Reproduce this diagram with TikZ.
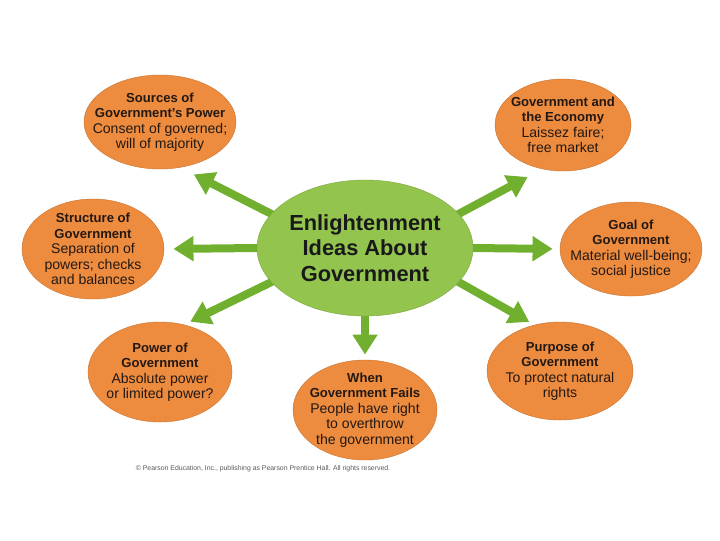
\documentclass[tikz,border=0pt]{standalone}
\usepackage{fontspec}
\setmainfont{Liberation Sans}
\usetikzlibrary{shapes.geometric,arrows.meta,backgrounds}
\definecolor{ideaorange}{RGB}{237,139,62}
\definecolor{hubgreen}{RGB}{146,196,78}
\definecolor{arrgreen}{RGB}{112,176,46}
\definecolor{ink}{RGB}{35,25,20}
\newcommand{\hd}[1]{{\fontsize{9.3}{11}\selectfont\bfseries #1}}
\tikzset{
  idea/.style={ellipse,fill=ideaorange,draw=ideaorange!85!black,line width=0.3pt,inner sep=-0.6cm,
    text=ink,align=center,font=\fontsize{10}{11}\selectfont},
  hub/.style={ellipse,fill=hubgreen,draw=hubgreen!85!black,line width=0.3pt,inner sep=-0.6cm,
    text=black!90,align=center,font=\fontsize{15.5}{18}\selectfont\bfseries,
    minimum width=5.4cm,minimum height=3.4cm},
  push/.style={arrgreen,line width=0.2cm,-{Triangle[width=0.6cm,length=0.5cm]},shorten <=-0.3cm}
}

\begin{document}
\begin{tikzpicture}[x=0.025cm,y=-0.025cm]
\useasboundingbox (0,0) rectangle (720,540);
% centre
\node[hub] (hub) at (365,248) {Enlightenment\\Ideas About\\Government};
% the seven ideas
\node[idea,minimum width=3.8cm,minimum height=2.35cm] (sources) at (160,122)
  {\hd{Sources of}\\\hd{Government’s Power}\\Consent of governed;\\will of majority};
\node[idea,minimum width=3.4cm,minimum height=2.3cm] (economy) at (563,125)
  {\hd{Government and}\\\hd{the Economy}\\Laissez faire;\\free market};
\node[idea,minimum width=3.55cm,minimum height=2.5cm] (structure) at (93,249)
  {\hd{Structure of}\\\hd{Government}\\Separation of\\powers; checks\\and balances};
\node[idea,minimum width=3.55cm,minimum height=2.35cm] (goal) at (631,249)
  {\hd{Goal of}\\\hd{Government}\\Material well-being;\\social justice};
\node[idea,minimum width=3.6cm,minimum height=2.5cm] (power) at (160,372)
  {\hd{Power of}\\\hd{Government}\\Absolute power\\or limited power?};
\node[idea,minimum width=3.65cm,minimum height=2.45cm] (purpose) at (560,371)
  {\hd{Purpose of}\\\hd{Government}\\To protect natural\\rights};
\node[idea,minimum width=3.6cm,minimum height=2.5cm] (fails) at (365,410)
  {\hd{When}\\\hd{Government Fails}\\People have right\\to overthrow\\the government};
% arrows
\begin{scope}[on background layer]
\draw[push,shorten >=0.38cm] (hub.160) -- (sources.-66);
\draw[push,shorten >=0.42cm] (hub.20) -- (economy.-115);
\draw[push,shorten >=0.23cm] (hub.west) -- (structure.east);
\draw[push,shorten >=0.18cm] (hub.east) -- (goal.west);
\draw[push,shorten >=0.17cm] (hub.200) -- (power.63);
\draw[push,shorten >=0.15cm] (hub.-20) -- (purpose.119);
\draw[push,shorten >=0.13cm] (hub.south) -- (fails.north);
\end{scope}
\node[text=black!65,font=\fontsize{4.9}{6}\selectfont] (credit) at (263,469)
  {© Pearson Education, Inc., publishing as Pearson Prentice Hall. All rights reserved.};
\end{tikzpicture}
\end{document}
